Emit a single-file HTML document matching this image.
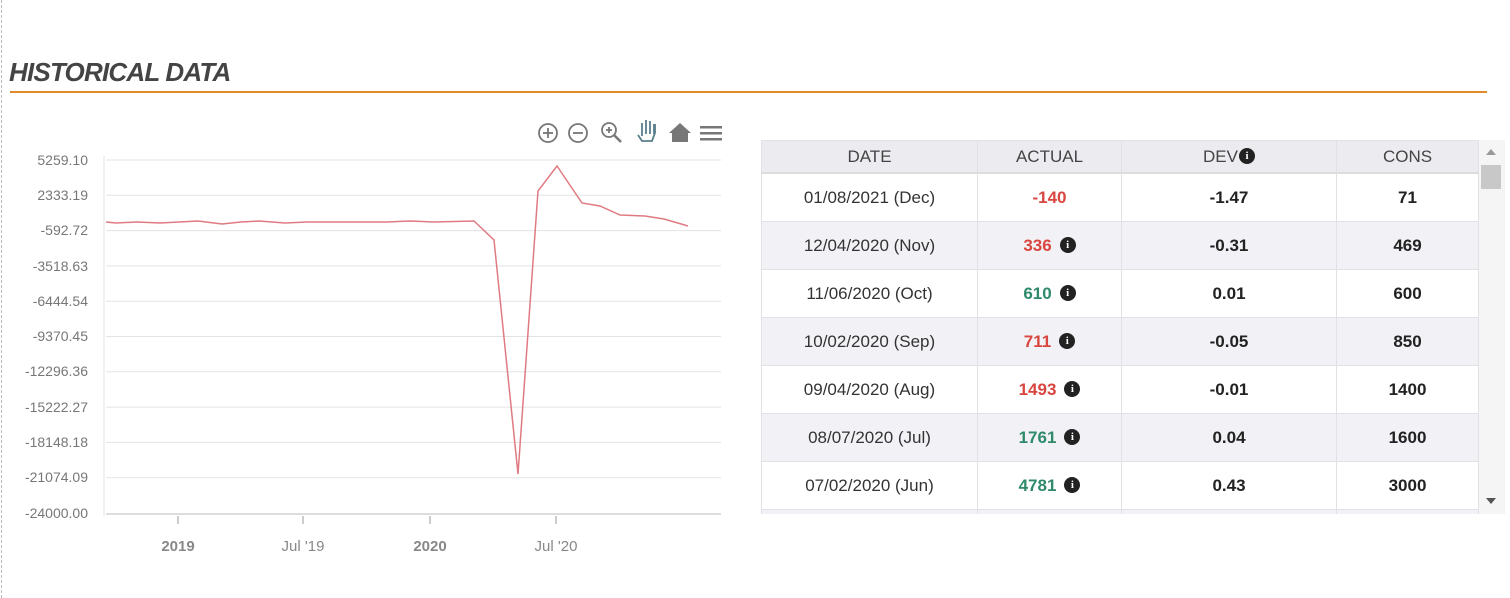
<!DOCTYPE html>
<html><head><meta charset="utf-8"><style>
body{margin:0;width:1510px;height:598px;background:#fff;overflow:hidden;font-family:"Liberation Sans",sans-serif;position:relative}
.dash{position:absolute;left:1px;top:0;height:598px;border-left:1px dashed #bbb}
h1{position:absolute;left:9px;top:57px;margin:0;font-size:26px;font-style:italic;font-weight:bold;color:#444;letter-spacing:-0.8px}
.rule{position:absolute;left:10px;top:91px;width:1477px;height:2px;background:#e08a2a}
.wrap{position:absolute;left:761px;top:140px;width:718px;height:374px;overflow:hidden}
table{border-collapse:collapse;width:718px;font-size:17px;color:#333}
td,th{border:1px solid #e2e2e6;text-align:center;padding:0}
th{height:31px;background:#ececf0;font-weight:normal;color:#444;border-bottom:2px solid #ddd}
td{height:47px}
tr:nth-child(odd) td{background:#f2f2f6}
.b{font-weight:bold;color:#222}
.r{color:#d9453f;font-weight:bold}.g{color:#2e8a6a;font-weight:bold}
.i{display:inline-block;width:16px;height:16px;border-radius:50%;background:#222;color:#fff;font-size:11px;font-weight:bold;line-height:16px;vertical-align:middle;margin-left:8px;margin-top:-3px;font-family:"Liberation Serif",serif}
.sb{position:absolute;left:1479px;top:140px;width:26px;height:374px;background:#f5f5f5}
</style></head><body>
<div class="dash"></div>
<h1>HISTORICAL DATA</h1>
<div class="rule"></div>
<svg width="740" height="598" style="position:absolute;left:0;top:0" font-family="Liberation Sans, sans-serif">
<g stroke="#e3e3e3" stroke-width="1">
<line x1="106" x2="721" y1="160" y2="160"/><line x1="106" x2="721" y1="195.3" y2="195.3"/><line x1="106" x2="721" y1="230.6" y2="230.6"/><line x1="106" x2="721" y1="265.9" y2="265.9"/><line x1="106" x2="721" y1="301.2" y2="301.2"/><line x1="106" x2="721" y1="336.5" y2="336.5"/><line x1="106" x2="721" y1="371.8" y2="371.8"/><line x1="106" x2="721" y1="407.1" y2="407.1"/><line x1="106" x2="721" y1="442.4" y2="442.4"/><line x1="106" x2="721" y1="477.7" y2="477.7"/>
<line x1="104" x2="104" y1="156" y2="516"/>
</g>
<line x1="106" x2="721" y1="514" y2="514" stroke="#ddd" stroke-width="2"/>
<g stroke="#999"><line x1="178" x2="178" y1="516" y2="524"/><line x1="303" x2="303" y1="516" y2="524"/><line x1="430" x2="430" y1="516" y2="524"/><line x1="556" x2="556" y1="516" y2="524"/></g>
<g font-size="14" fill="#777" text-anchor="end">
<text x="88" y="165">5259.10</text><text x="88" y="200">2333.19</text><text x="88" y="235">-592.72</text><text x="88" y="271">-3518.63</text><text x="88" y="306">-6444.54</text><text x="88" y="341">-9370.45</text><text x="88" y="376">-12296.36</text><text x="88" y="412">-15222.27</text><text x="88" y="447">-18148.18</text><text x="88" y="482">-21074.09</text><text x="88" y="518">-24000.00</text>
</g>
<g font-size="15" fill="#888" text-anchor="middle">
<text x="178" y="551" font-weight="bold">2019</text><text x="303" y="551">Jul '19</text><text x="430" y="551" font-weight="bold">2020</text><text x="556" y="551">Jul '20</text>
</g>
<polyline fill="none" stroke="#e07a82" stroke-width="1.5" points="106,222 116,223 137,222 160,223 179,222 198,221 222,224 241,222 259,221 285,223 307,222 340,222 387,222 410,221 434,222 474,221 494,240 518,474 538,191 557,166 582,203 600,206 620,215 645,216 664,219 688,226"/>
<g fill="none" stroke="#777" stroke-width="1.8">
<circle cx="548" cy="133" r="9"/><line x1="543" x2="553" y1="133" y2="133"/><line x1="548" x2="548" y1="128" y2="138"/>
<circle cx="578" cy="133" r="9"/><line x1="573" x2="583" y1="133" y2="133"/>
<circle cx="609" cy="130" r="7"/><line x1="614" y1="135" x2="621" y2="142" stroke-width="2.5"/><line x1="606" x2="612" y1="130" y2="130"/><line x1="609" x2="609" y1="127" y2="133"/>
<path d="M638 135 l4 6 h10 l3-8 v-9 M642 136 v-13 M646 134 v-14 M650 134 v-13 M654 134 v-10" stroke="#5a7f8a"/>
</g>
<path d="M669 133 L680 123 L691 133 H688 V142 H672 V133 Z" fill="#777"/>
<g fill="#777"><rect x="700" y="126" width="22" height="2.5"/><rect x="700" y="132" width="22" height="2.5"/><rect x="700" y="138" width="22" height="2.5"/></g>
</svg>
<div class="wrap"><table>
<tr><th style="width:215px">DATE</th><th style="width:143px">ACTUAL</th><th style="width:214px">DEV<span class="i" style="margin-left:1px">i</span></th><th>CONS</th></tr>
<tr><td>01/08/2021 (Dec)</td><td class="r">-140</td><td class="b">-1.47</td><td class="b">71</td></tr>
<tr><td>12/04/2020 (Nov)</td><td><span class="r">336</span><span class="i">i</span></td><td class="b">-0.31</td><td class="b">469</td></tr>
<tr><td>11/06/2020 (Oct)</td><td><span class="g">610</span><span class="i">i</span></td><td class="b">0.01</td><td class="b">600</td></tr>
<tr><td>10/02/2020 (Sep)</td><td><span class="r">711</span><span class="i">i</span></td><td class="b">-0.05</td><td class="b">850</td></tr>
<tr><td>09/04/2020 (Aug)</td><td><span class="r">1493</span><span class="i">i</span></td><td class="b">-0.01</td><td class="b">1400</td></tr>
<tr><td>08/07/2020 (Jul)</td><td><span class="g">1761</span><span class="i">i</span></td><td class="b">0.04</td><td class="b">1600</td></tr>
<tr><td>07/02/2020 (Jun)</td><td><span class="g">4781</span><span class="i">i</span></td><td class="b">0.43</td><td class="b">3000</td></tr>
<tr><td>06/05/2020 (May)</td><td></td><td></td><td></td></tr>
</table></div>
<div class="sb"><div style="position:absolute;left:2px;top:25px;width:20px;height:24px;background:#c8c8c8"></div>
<div style="position:absolute;left:7px;top:9px;border:5px solid transparent;border-bottom:6px solid #999;border-top:0"></div>
<div style="position:absolute;left:7px;top:358px;border:5px solid transparent;border-top:6px solid #555;border-bottom:0"></div></div>
</body></html>
